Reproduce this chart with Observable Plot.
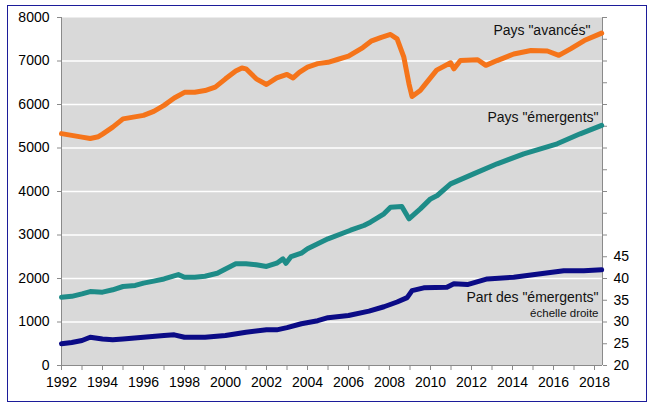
<!DOCTYPE html>
<html>
<head>
<meta charset="utf-8">
<script src="https://cdn.jsdelivr.net/npm/d3@7"></script>
<script src="https://cdn.jsdelivr.net/npm/@observablehq/plot@0.6"></script>
<style>
  html, body { margin: 0; padding: 0; background: #fff; }
  #wrap { position: relative; width: 652px; height: 413px; overflow: hidden; }
  #border { position: absolute; left: 7px; top: 5px; width: 638px; height: 395px; border: 1.5px solid #1c1c9a; pointer-events: none; }
  #chart { position: absolute; left: 0; top: 0; }
</style>
</head>
<body>
<div id="wrap"><div id="chart"></div><div id="border"></div></div>
<script>
// Pays "avancés" (left scale)
const advYears = [1992.0,1992.5,1993.0,1993.4,1993.8,1994.0,1994.5,1995.0,1995.5,1996.0,1996.5,1997.0,1997.5,1998.0,1998.5,1999.0,1999.5,2000.0,2000.5,2000.8,2001.0,2001.5,2002.0,2002.5,2003.0,2003.3,2003.6,2004.0,2004.5,2005.0,2005.5,2006.0,2006.7,2007.1,2007.6,2008.05,2008.37,2008.7,2008.95,2009.1,2009.5,2009.7,2010.3,2010.98,2011.14,2011.46,2012.3,2012.7,2013.25,2014.06,2014.9,2015.7,2016.26,2016.83,2017.5,2018.35];
const advValues = [5330,5290,5250,5220,5260,5320,5480,5670,5710,5750,5840,5980,6150,6280,6280,6320,6400,6590,6770,6840,6820,6590,6460,6610,6690,6610,6740,6860,6940,6970,7040,7110,7310,7455,7545,7610,7510,7088,6475,6184,6322,6440,6790,6960,6820,7010,7030,6900,7010,7160,7240,7230,7130,7280,7470,7640];

// Pays "émergents" (left scale)
const emeYears = [1992.0,1992.5,1993.0,1993.4,1994.0,1994.5,1995.0,1995.6,1996.0,1996.5,1997.0,1997.7,1998.0,1998.5,1999.0,1999.6,2000.0,2000.5,2001.0,2001.5,2002.0,2002.5,2002.8,2002.95,2003.2,2003.7,2004.0,2004.5,2005.0,2006.1,2006.75,2007.07,2007.73,2008.05,2008.6,2008.95,2009.5,2010.0,2010.33,2010.98,2012.1,2013.25,2014.55,2016.18,2017.3,2018.35];
const emeValues = [1570,1590,1648,1700,1686,1740,1816,1840,1893,1940,1990,2090,2030,2030,2053,2120,2220,2337,2337,2314,2276,2352,2452,2350,2505,2582,2683,2797,2912,3110,3218,3295,3487,3640,3655,3372,3600,3830,3908,4176,4406,4637,4866,5096,5326,5520];

// Part des "émergents" (right scale, %)
const shareYears = [1992.0,1992.5,1993.0,1993.4,1994.0,1994.5,1995.0,1996.0,1997.0,1997.5,1998.0,1999.0,2000.0,2001.0,2002.0,2002.5,2003.0,2003.7,2004.5,2005.0,2006.0,2007.0,2007.73,2008.37,2008.86,2009.1,2009.67,2010.8,2011.14,2011.8,2012.77,2014.06,2015.37,2016.5,2017.48,2018.35];
const shareValues = [25.0,25.3,25.75,26.5,26.1,25.9,26.1,26.5,26.9,27.05,26.5,26.5,26.9,27.65,28.2,28.2,28.7,29.6,30.3,31.0,31.5,32.5,33.5,34.6,35.6,37.2,37.85,38.0,38.8,38.6,39.9,40.3,41.1,41.8,41.8,42.0];

// Axes
const leftTicks = [0,1000,2000,3000,4000,5000,6000,7000,8000];
const gridValues = [1000,2000,3000,4000,5000,6000,7000];
const rightTicks = [20,25,30,35,40,45,50,55,60,65,70,75,80,85,90,95,100];
const rightLabelMax = 45;
const xTicks = d3.range(1992, 2019);
const xDomain = [1992, 2018.39];

const labels = {
  adv: 'Pays "avancés"',
  eme: 'Pays "émergents"',
  share: 'Part des "émergents"',
  scale: 'échelle droite'
};

// right scale (20..100) mapped onto left scale (0..8000)
const toLeft = r => (r - 20) * 100;

const adv = advYears.map((x, i) => ({x, y: advValues[i]}));
const eme = emeYears.map((x, i) => ({x, y: emeValues[i]}));
const share = shareYears.map((x, i) => ({x, y: toLeft(shareValues[i])}));

const chart = Plot.plot({
  width: 652,
  height: 413,
  marginLeft: 61,
  marginRight: 50,
  marginTop: 17,
  marginBottom: 48,
  x: {domain: xDomain},
  y: {domain: [0, 8000]},
  style: {fontFamily: "'Liberation Sans', Arial, sans-serif", fontSize: "14px", background: "transparent", color: "#000"},
  marks: [
    Plot.frame({fill: "#d9d9d9", stroke: null}),
    Plot.ruleY(gridValues, {stroke: "#ffffff", strokeWidth: 1.6}),
    Plot.ruleX([xDomain[0], xDomain[1]], {stroke: "#8a8a8a", strokeWidth: 1}),
    Plot.ruleY([0], {stroke: "#8a8a8a", strokeWidth: 1}),
    Plot.axisY({ticks: leftTicks, tickSize: 4, tickPadding: 8, tickFormat: d => String(d), stroke: "#8a8a8a", fill: "#000", label: null, fontSize: 14}),
    Plot.axisY({anchor: "right", ticks: rightTicks.map(toLeft), tickSize: 4, tickPadding: 7,
      tickFormat: d => { const r = 20 + d / 100; return r <= rightLabelMax ? String(r) : ""; },
      stroke: "#8a8a8a", fill: "#000", label: null, fontSize: 14}),
    Plot.axisX({ticks: xTicks, tickSize: 5, tickPadding: 7, tickFormat: d => d % 2 === 0 ? String(d) : "", stroke: "#8a8a8a", fill: "#000", label: null, fontSize: 14}),
    Plot.line(share, {x: "x", y: "y", stroke: "#0b0b86", strokeWidth: 5, strokeLinejoin: "round", strokeLinecap: "round"}),
    Plot.line(eme, {x: "x", y: "y", stroke: "#1e8c88", strokeWidth: 5, strokeLinejoin: "round", strokeLinecap: "round"}),
    Plot.line(adv, {x: "x", y: "y", stroke: "#f5741a", strokeWidth: 5, strokeLinejoin: "round", strokeLinecap: "round"}),
    Plot.text([labels.adv], {frameAnchor: "top-right", dx: -12, dy: 13, textAnchor: "end", lineAnchor: "middle", fontSize: 14, fill: "#111"}),
    Plot.text([labels.eme], {frameAnchor: "top-right", dx: -4, dy: 100, textAnchor: "end", lineAnchor: "middle", fontSize: 14, fill: "#111"}),
    Plot.text([labels.share], {frameAnchor: "top-right", dx: -4, dy: 280, textAnchor: "end", lineAnchor: "middle", fontSize: 14, fill: "#111"}),
    Plot.text([labels.scale], {frameAnchor: "top-right", dx: -4, dy: 296, textAnchor: "end", lineAnchor: "middle", fontSize: 11.5, fill: "#111"})
  ]
});
document.getElementById("chart").appendChild(chart);
</script>
</body>
</html>
